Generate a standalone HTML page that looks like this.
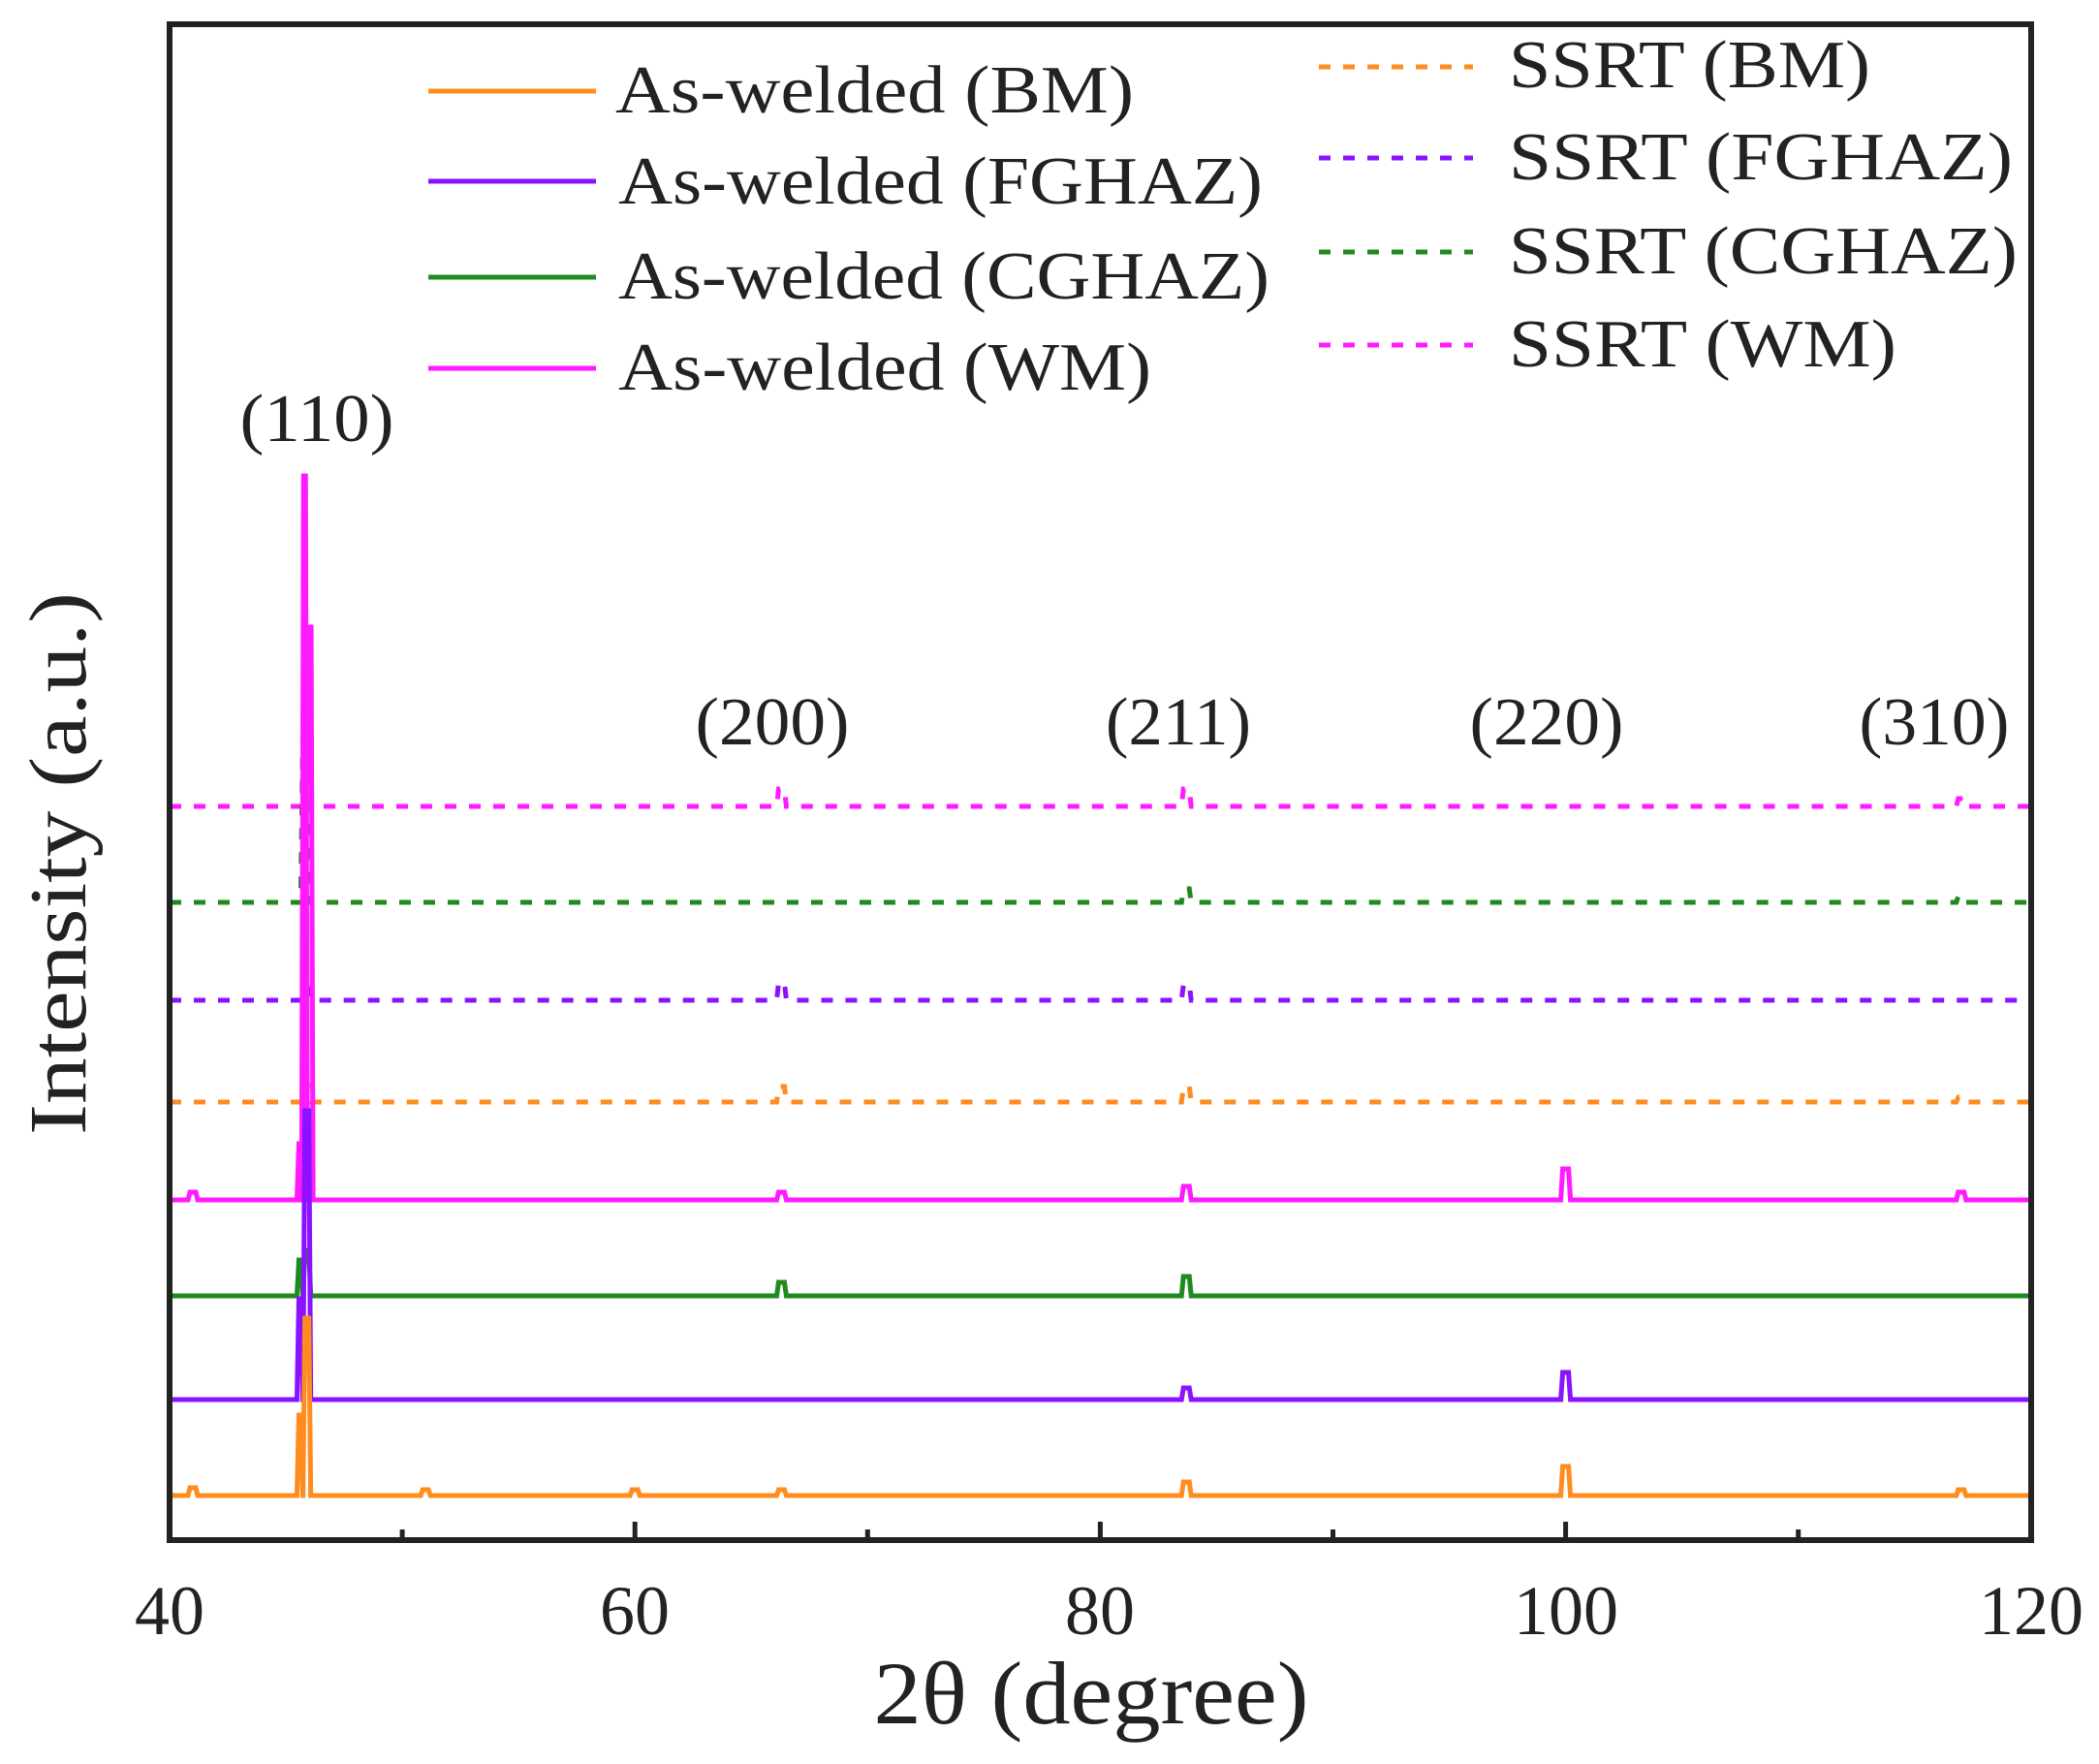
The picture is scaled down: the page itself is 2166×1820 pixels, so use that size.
<!DOCTYPE html>
<html><head><meta charset="utf-8"><style>
html,body{margin:0;padding:0;background:#fff}
svg{display:block}
text{font-family:"Liberation Serif",serif;fill:#222}
</style></head><body>
<svg id="s" width="2166" height="1820" viewBox="0 0 2166 1820" xmlns="http://www.w3.org/2000/svg">
<rect width="2166" height="1820" fill="#fff"/>
<g id="series" fill="none" stroke-width="5" stroke-linejoin="miter"></g>
<rect x="175" y="25" width="1921" height="1564" fill="none" stroke="#222" stroke-width="6"/>
<g id="ticks" stroke="#222" stroke-width="5"></g>
<g font-size="72" text-anchor="middle">
<text x="175" y="1686">40</text><text x="655" y="1686">60</text><text x="1135" y="1686">80</text><text x="1616" y="1686">100</text><text x="2096" y="1686">120</text>
</g>
<text x="1126" y="1778" font-size="92" text-anchor="middle" textLength="449" lengthAdjust="spacingAndGlyphs">2θ (degree)</text>
<text transform="translate(88,891) rotate(-90)" font-size="84" text-anchor="middle" textLength="560" lengthAdjust="spacingAndGlyphs">Intensity (a.u.)</text>
<g font-size="70" text-anchor="middle">
<text x="327" y="455" textLength="159" lengthAdjust="spacingAndGlyphs">(110)</text><text x="797" y="768" textLength="159" lengthAdjust="spacingAndGlyphs">(200)</text><text x="1216" y="768" textLength="150" lengthAdjust="spacingAndGlyphs">(211)</text><text x="1596" y="768" textLength="159" lengthAdjust="spacingAndGlyphs">(220)</text><text x="1996" y="768" textLength="155" lengthAdjust="spacingAndGlyphs">(310)</text>
</g>
<g stroke-width="5">
<line x1="442" y1="94" x2="615" y2="94" stroke="#ff8c1e"/>
<line x1="442" y1="187" x2="615" y2="187" stroke="#8a12ff"/>
<line x1="442" y1="286" x2="615" y2="286" stroke="#1f8a1f"/>
<line x1="442" y1="380" x2="615" y2="380" stroke="#ff1aff"/>
<g stroke-dasharray="12 13">
<line x1="1361" y1="69" x2="1520" y2="69" stroke="#ff8c1e"/>
<line x1="1361" y1="163" x2="1520" y2="163" stroke="#8a12ff"/>
<line x1="1361" y1="260" x2="1520" y2="260" stroke="#1f8a1f"/>
<line x1="1361" y1="356" x2="1520" y2="356" stroke="#ff1aff"/>
</g></g>
<g font-size="70">
<text x="635" y="116" textLength="535" lengthAdjust="spacingAndGlyphs">As-welded (BM)</text>
<text x="638" y="210" textLength="665" lengthAdjust="spacingAndGlyphs">As-welded (FGHAZ)</text>
<text x="638" y="308" textLength="672" lengthAdjust="spacingAndGlyphs">As-welded (CGHAZ)</text>
<text x="638" y="402" textLength="550" lengthAdjust="spacingAndGlyphs">As-welded (WM)</text>
<text x="1557" y="90" textLength="373" lengthAdjust="spacingAndGlyphs">SSRT (BM)</text>
<text x="1557" y="185" textLength="520" lengthAdjust="spacingAndGlyphs">SSRT (FGHAZ)</text>
<text x="1557" y="282" textLength="525" lengthAdjust="spacingAndGlyphs">SSRT (CGHAZ)</text>
<text x="1557" y="378" textLength="400" lengthAdjust="spacingAndGlyphs">SSRT (WM)</text>
</g>
</svg>
<script>
var NS="http://www.w3.org/2000/svg";
function X(v){return 175+(v-40)*24.01;}
var g=document.getElementById("series");
var t=document.getElementById("ticks");
for(var v=40;v<=120;v+=10){var l=document.createElementNS(NS,"line");var x=X(v);l.setAttribute("x1",x);l.setAttribute("x2",x);l.setAttribute("y1",1589);l.setAttribute("y2",v%20==0?1570:1578);t.appendChild(l);}
var S=[
 [832,"#ff1aff",1,[[45.9,647,4]],[[66.3,18],[83.7,18],[117,8]]],
 [931,"#1f8a1f",1,[[45.8,785,3]],[[83.7,14],[117,6]]],
 [1032,"#8a12ff",1,[[45.9,1020,3]],[[66.3,18],[83.7,16]]],
 [1137,"#ff8c1e",1,[[45.9,1120,3]],[[66.3,16],[83.7,16],[117,5]]],
 [1238,"#ff1aff",0,[[45.6,1180,2],[45.8,491,2],[46.0,647,3]],[[41,8],[66.3,8],[83.7,14],[100,32],[117,8]]],
 [1337,"#1f8a1f",0,[[45.6,1300,2],[45.9,1290,3]],[[66.3,14],[83.7,20]]],
 [1444,"#8a12ff",0,[[45.6,1340,2],[45.9,1146,3]],[[83.7,12],[100,28]]],
 [1543,"#ff8c1e",0,[[45.6,1460,2],[45.9,1360,3]],[[41,8],[51,6],[60,6],[66.3,6],[83.7,14],[100,30],[117,6]]]
];
S.forEach(function(s){
 var b=s[0];
 var ev=[];
 s[3].forEach(function(p){ev.push([X(p[0]),p[1],p[2]]);});
 s[4].forEach(function(p){ev.push([X(p[0]),b-p[1],4]);});
 ev.sort(function(a,c){return a[0]-c[0];});
 var d="M175 "+b;
 ev.forEach(function(e){d+=" L"+(e[0]-e[2]-1)+" "+b+" L"+(e[0]-e[2]+1)+" "+e[1]+" L"+(e[0]+e[2]-1)+" "+e[1]+" L"+(e[0]+e[2]+1)+" "+b;});
 d+=" L2093 "+b;
 var p=document.createElementNS(NS,"path");p.setAttribute("d",d);p.setAttribute("stroke",s[1]);
 if(s[2])p.setAttribute("stroke-dasharray","12 13");
 g.appendChild(p);
});
</script>
</body></html>
